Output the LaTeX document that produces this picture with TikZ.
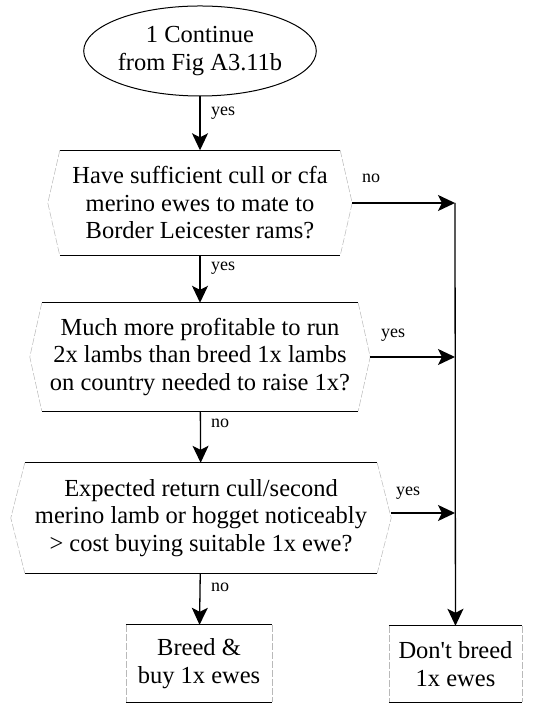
\documentclass[tikz,border=0pt]{standalone}
\usepackage{fontspec}
\setmainfont{Liberation Serif}
\usetikzlibrary{arrows.meta,shapes.geometric}
\tikzset{
  txt/.style={align=center,font=\fontsize{24.5}{27.5}\selectfont,inner sep=0pt},
  lbl/.style={anchor=west,font=\fontsize{18}{20}\selectfont,inner sep=0pt},
  rim/.style={line width=1pt},
  side/.style={line width=0.5pt,gray!55,dash pattern=on 7pt off 2pt},
  flow/.style={line width=1.3pt,-{Stealth[length=17pt,width=16pt,inset=4pt]}}
}
\begin{document}
\begin{tikzpicture}[x=1pt,y=1pt]
  \useasboundingbox (0,0) rectangle (546,703);
  \draw
    (200,652) node[txt,draw,ellipse,line width=1pt,minimum width=206pt,minimum height=90pt] (start){1 Continue\\from Fig A3.11b}
    (200,500) node[txt,minimum width=280pt,minimum height=105pt] (q1){Have sufficient cull or cfa\\merino ewes to mate to\\Border Leicester rams?}
    (200,346) node[txt,minimum width=316pt,minimum height=108pt] (q2){Much more profitable to run\\2x lambs than breed 1x lambs\\on country needed to raise 1x?}
    (201,185) node[txt,minimum width=352pt,minimum height=110pt] (q3){Expected return cull/second\\merino lamb or hogget noticeably\\> cost buying suitable 1x ewe?}
    (199,39.5) node[txt,minimum width=146pt,minimum height=77pt] (breed){Breed \&\\buy 1x ewes}
    (455.5,39) node[txt,minimum width=133pt,minimum height=76pt] (dont){Don\textquotesingle t breed\\1x ewes};
  % outlines of the decision boxes
  \foreach \n/\d in {q1/12,q2/12,q3/14}{
    \draw[rim] (\n.north west) -- (\n.north east);
    \draw[rim] (\n.south west) -- (\n.south east);
    \draw[side] (\n.north east) -- ([xshift=\d pt]\n.east) -- (\n.south east);
    \draw[side] (\n.north west) -- ([xshift=-\d pt]\n.west) -- (\n.south west);
  }
  \foreach \n in {breed,dont}{
    \draw[rim] (\n.north west) -- (\n.north east);
    \draw[rim] (\n.south west) -- (\n.south east);
    \draw[side] (\n.north west) -- (\n.south west);
    \draw[side] (\n.north east) -- (\n.south east);
  }
  \coordinate (j1) at (455,500);
  \coordinate (j2) at (455,346);
  \coordinate (j3) at (455,190);
  \begin{scope}[flow]
    \draw (start) to (q1);
    \draw (q1) to (q2);
    \draw (q2) to (q3);
    \draw (q3) to (breed);
    \draw ([xshift=12pt]q1.east) to (j1);
    \draw ([xshift=12pt]q2.east |- j2) to (j2);
    \draw ([xshift=14pt]q3.east |- j3) to (j3);
    \draw (j1) to (dont);
  \end{scope}
  \draw
    (211,590) node[lbl] (y1){yes}
    (362,525) node[lbl] (n1){no}
    (211,435) node[lbl] (y2){yes}
    (381,368) node[lbl] (y3){yes}
    (211,280) node[lbl] (n2){no}
    (396,210) node[lbl] (y4){yes}
    (211,116) node[lbl] (n3){no};
\end{tikzpicture}
\end{document}
